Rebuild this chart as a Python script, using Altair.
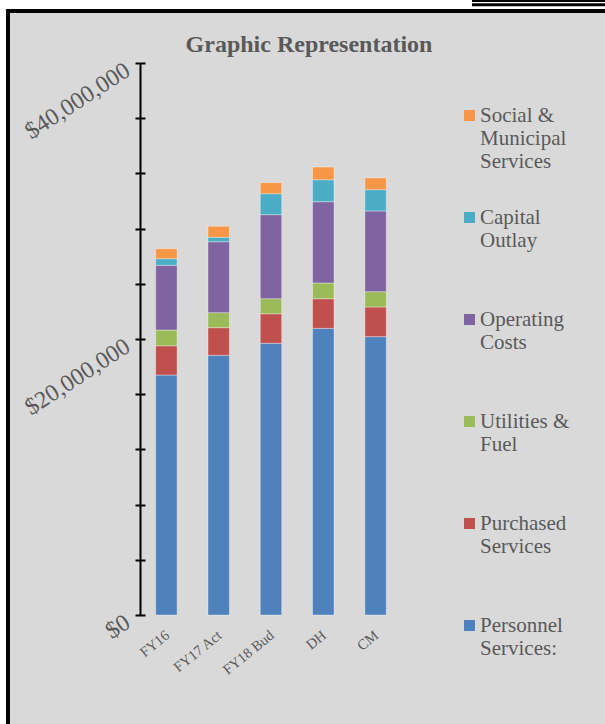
import altair as alt
import pandas as pd

# ---- data ----
categories = ["FY16", "FY17 Act", "FY18 Bud", "DH", "CM"]

# legend order, top to bottom
series = [
    "Social &\nMunicipal\nServices",
    "Capital\nOutlay",
    "Operating\nCosts",
    "Utilities &\nFuel",
    "Purchased\nServices",
    "Personnel\nServices:",
]
colors = ["#f79646", "#4bacc6", "#8064a2", "#9bbb59", "#c0504d", "#4f81bd"]

personnel = [17390000, 18820000, 19690000, 20770000, 20170000]
purchased = [2120000, 2000000, 2140000, 2150000, 2150000]
utilities = [1140000, 1090000, 1090000, 1140000, 1110000]
operating = [4690000, 5140000, 6090000, 5890000, 5850000]
capital = [480000, 320000, 1520000, 1590000, 1540000]
social = [720000, 800000, 800000, 920000, 850000]

y_ticks = [0, 4000000, 8000000, 12000000, 16000000, 20000000,
           24000000, 28000000, 32000000, 36000000, 40000000]

# stacking order: bottom first
stack_series = [
    ("Personnel\nServices:", personnel),
    ("Purchased\nServices", purchased),
    ("Utilities &\nFuel", utilities),
    ("Operating\nCosts", operating),
    ("Capital\nOutlay", capital),
    ("Social &\nMunicipal\nServices", social),
]

rows = []
for order, (name, vals) in enumerate(stack_series):
    for cat, v in zip(categories, vals):
        rows.append({"category": cat, "series": name, "value": v, "order": order})
df = pd.DataFrame(rows)

FONT = "Liberation Serif"
GREY = "#595959"

bars = alt.Chart(df).mark_bar(
    stroke="white", strokeWidth=1, strokeOpacity=0.35
).encode(
    x=alt.X(
        "category:N",
        sort=categories,
        scale=alt.Scale(paddingInner=0.59, paddingOuter=0.3),
        axis=alt.Axis(
            title=None, labelAngle=321, labelAlign="right", labelBaseline="top",
            labelPadding=13, labelOffset=-3, ticks=False, domain=False,
            labelFont=FONT, labelFontSize=14.5, labelColor=GREY,
            labelOverlap=False, zindex=1,
        ),
    ),
    y=alt.Y(
        "value:Q",
        stack="zero",
        scale=alt.Scale(domain=[0, 40000000], nice=False),
        axis=alt.Axis(
            title=None, values=y_ticks,
            labelExpr="datum.value % 20000000 == 0 ? format(datum.value, '$,.0f') : ''",
            tickSize=5, tickWidth=2, tickColor="black",
            domainColor="black", domainWidth=2,
            grid=True, gridColor="black", gridWidth=2, gridDash=[5, 2000],
            labelAngle=327, labelAlign="right", labelBaseline="top",
            labelPadding=14, labelOffset=-5, labelFont=FONT, labelFontSize=24,
            labelColor=GREY, labelOverlap=False, zindex=1,
        ),
    ),
    color=alt.Color(
        "series:N",
        scale=alt.Scale(domain=series, range=colors),
        legend=alt.Legend(
            title=None, orient="none", legendX=319, legendY=42,
            symbolType="square", symbolSize=121, symbolStrokeWidth=0,
            labelFont=FONT, labelFontSize=21, labelColor=GREY,
            labelBaseline="middle", labelExpr="split(datum.label, '\\n')",
            rowPadding=34, gridAlign="all", padding=0, labelOffset=0,
            labelLimit=200, zindex=1,
        ),
    ),
    order=alt.Order("order:Q", sort="ascending"),
)

# ---- decorative page frame ----
one = alt.Data(values=[{"k": 0}])


def deco(x, x2, y, y2, color):
    return alt.Chart(one).mark_rect(color=color).encode(
        x=alt.value(x), x2=alt.value(x2), y=alt.value(y), y2=alt.value(y2)
    )


frame = [
    deco(-140, 465, -63, -54, "white"),
    deco(-140, -134, -63, 661, "white"),
    deco(-134, 465, -54, -50, "black"),
    deco(-134, -130, -54, 661, "black"),
    deco(332, 465, -63, -61, "black"),
    deco(332, 465, -59.7, -56.7, "black"),
]

chart = alt.layer(bars, *frame).properties(
    width=262,
    height=552,
    padding={"left": 140, "top": 63, "right": 203, "bottom": 109},
    autosize=alt.AutoSizeParams(type="none"),
    background="#d9d9d9",
    title=alt.Title(
        "Graphic Representation", font=FONT, fontSize=24, fontWeight="bold",
        color=GREY, anchor="middle", frame="group", dx=38, dy=91, offset=10,
        baseline="bottom",
    ),
).configure_view(stroke=None)

chart.save("out.html", embed_options={"renderer": "svg", "actions": False})
